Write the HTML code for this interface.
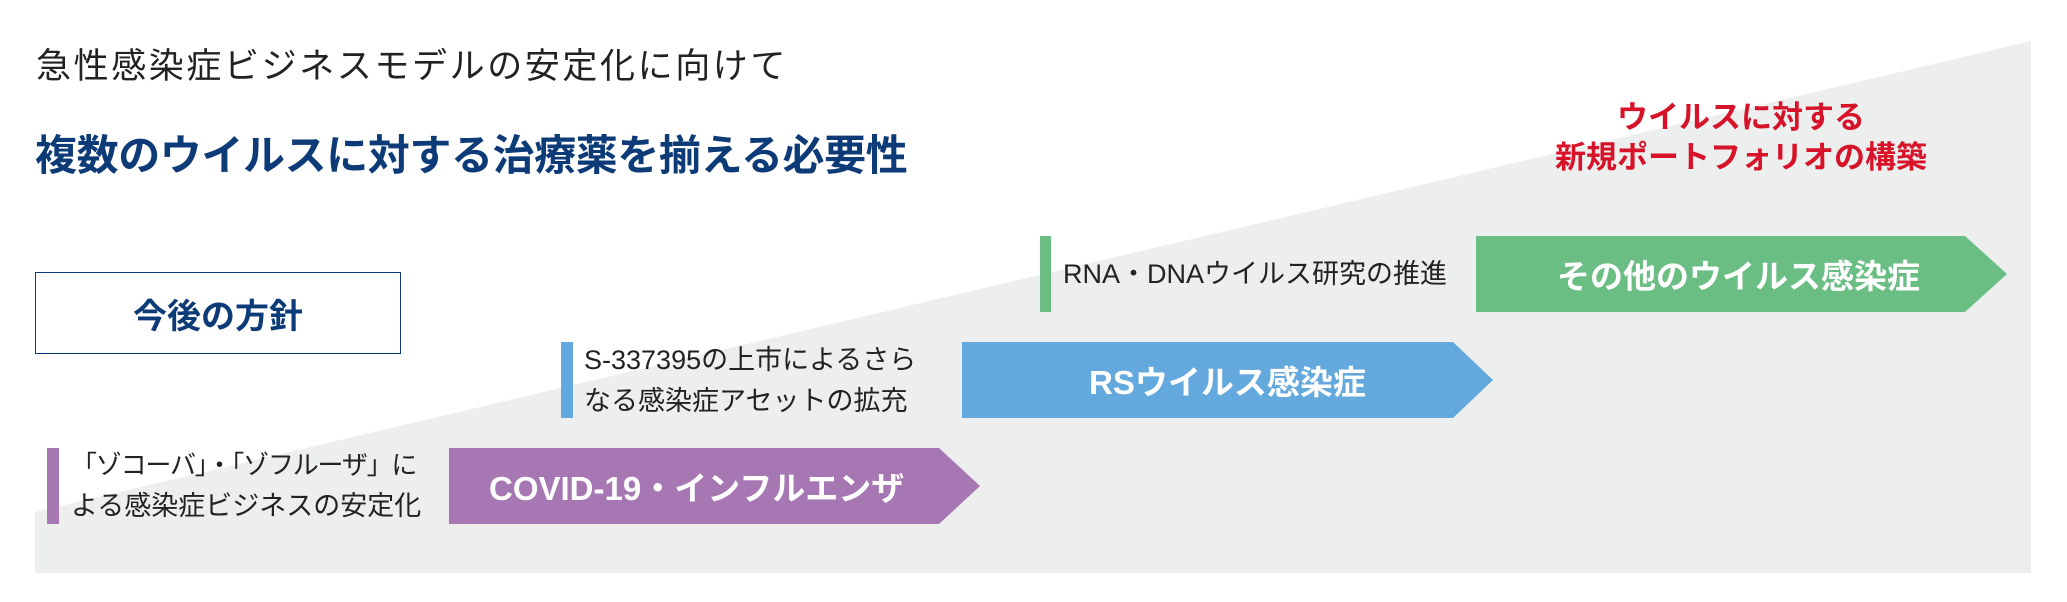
<!DOCTYPE html>
<html><head><meta charset="utf-8"><style>
*{margin:0;padding:0;box-sizing:border-box}
body{width:2067px;height:602px;background:#fff;position:relative;overflow:hidden;font-family:"Liberation Sans","Noto Sans CJK JP",sans-serif}
.a{position:absolute;white-space:nowrap}
.t{color:#222;font-size:27px;line-height:41px}
.arw{position:absolute;display:flex;align-items:center;color:#fff;font-weight:bold;font-size:33px}
</style></head><body>
<svg class="a" style="left:0;top:0" width="2067" height="602">
<polygon points="35,512 2031,41 2031,573 35,573" fill="#edeeee"/>
</svg>
<div class="a" style="left:36px;top:38px;font-size:35px;letter-spacing:2.6px;color:#222">急性感染症ビジネスモデルの安定化に向けて</div>
<div class="a" style="left:35px;top:122px;font-size:42px;font-weight:bold;letter-spacing:-0.4px;color:#0d3b78">複数のウイルスに対する治療薬を揃える必要性</div>
<div class="a" style="left:35px;top:272px;width:366px;height:82px;border:1.5px solid #0d3b78;display:flex;align-items:center;justify-content:center;font-size:34px;font-weight:bold;color:#0d3b78">今後の方針</div>
<div class="a" style="left:1550px;top:98px;width:382px;text-align:center;color:#d7132a;font-weight:bold;font-size:31px;line-height:40px">ウイルスに対する<br>新規ポートフォリオの構築</div>

<div class="a" style="left:47px;top:448px;width:12px;height:76px;background:#a677b3"></div>
<div class="a t" style="left:71px;top:445px"><span style="letter-spacing:-1.2px;font-size:26px">「ゾコーバ」・「ゾフルーザ」に</span><br>よる感染症ビジネスの安定化</div>
<div class="arw" style="left:449px;top:448px;width:531px;height:76px;background:#a677b3;clip-path:polygon(0 0,490px 0,531px 50%,490px 100%,0 100%);padding-left:40px">COVID-19・インフルエンザ</div>

<div class="a" style="left:561px;top:342px;width:12px;height:76px;background:#64a9dd"></div>
<div class="a t" style="left:584px;top:340px">S-337395の上市によるさら<br>なる感染症アセットの拡充</div>
<div class="arw" style="left:962px;top:342px;width:531px;height:76px;background:#64a9dd;clip-path:polygon(0 0,491px 0,531px 50%,491px 100%,0 100%);padding-left:127px">RSウイルス感染症</div>

<div class="a" style="left:1040px;top:236px;width:11px;height:76px;background:#6abe83"></div>
<div class="a t" style="left:1063px;top:254px">RNA・DNAウイルス研究の推進</div>
<div class="arw" style="left:1476px;top:236px;width:531px;height:76px;background:#6abe83;clip-path:polygon(0 0,489px 0,531px 50%,489px 100%,0 100%);padding-left:81px">その他のウイルス感染症</div>
</body></html>
